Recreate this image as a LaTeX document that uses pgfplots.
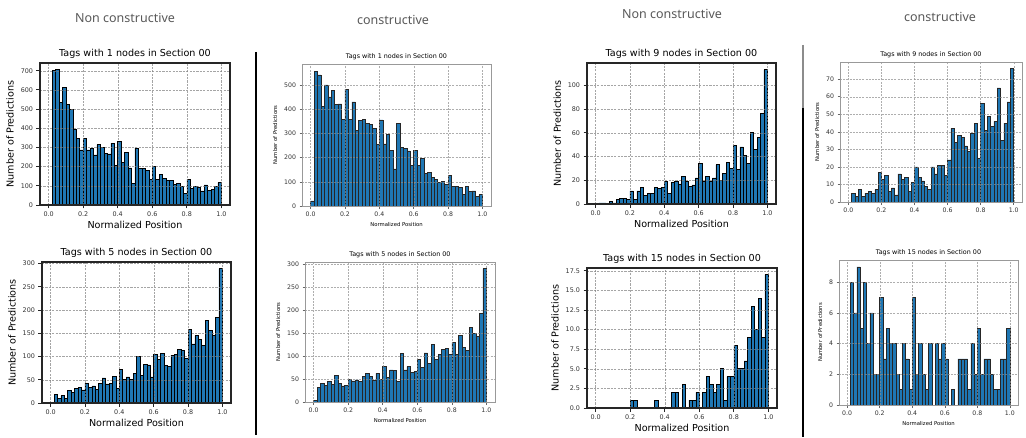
\documentclass[border=0pt]{standalone}
\usepackage{fontspec}
\setmainfont{DejaVu Sans}
\newfontfamily\headfont{Noto Sans}
\usepackage{pgfplots}
\usepackage{pgfplotstable}
\pgfplotsset{compat=1.18}
\definecolor{mplblue}{RGB}{31,119,180}

% Histogram counts, 50 bins of width 0.02 (last row repeats the final bin)
\pgfplotstableread{
x    n1  n5  n9  n15
0.00 0   0   0   0
0.02 700 18  1   0
0.04 705 10  1   0
0.06 534 16  0   0
0.08 611 10  2   0
0.10 523 27  1   0
0.12 497 23  4   0
0.14 392 31  5   0
0.16 348 34  5   0
0.18 287 28  4   0
0.20 348 43  11  1
0.22 287 33  4   1
0.24 296 37  11  0
0.26 261 30  14  0
0.28 315 42  7   0
0.30 301 54  9   0
0.32 270 41  9   0
0.34 266 42  14  1
0.36 322 58  13  0
0.38 208 32  14  0
0.40 333 72  19  0
0.42 222 51  9   0
0.44 275 56  18  2
0.46 193 51  19  2
0.48 112 63  17  0
0.50 298 100 23  3
0.52 191 60  19  0
0.54 191 83  15  1
0.56 182 82  16  1
0.58 135 56  22  2
0.60 200 105 34  0
0.62 135 94  19  2
0.64 161 107 23  4
0.66 138 81  19  3
0.68 130 79  22  2
0.70 130 103 33  3
0.72 109 104 20  5
0.74 112 115 26  1
0.76 98  113 35  4
0.78 60  96  30  4
0.80 133 159 49  8
0.82 88  127 29  5
0.84 98  145 48  5
0.86 91  137 41  6
0.88 74  124 34  9
0.90 105 177 60  13
0.92 77  157 46  10
0.94 82  146 56  14
0.96 95  185 76  9
0.98 117 289 113 17
1.00 117 289 113 17
}\noncons

\pgfplotstableread{
x    c1  c5  c9  c15
0.00 21  3   0   0
0.02 556 32  5   8
0.04 541 40  3   6
0.06 412 36  7   9
0.08 500 45  3   5
0.10 450 38  5   8
0.12 476 58  6   4
0.14 420 40  5   6
0.16 421 35  7   2
0.18 356 36  17  2
0.20 482 49  13  7
0.22 358 46  15  3
0.24 430 48  6   5
0.26 312 45  8   4
0.28 352 56  4   4
0.30 356 63  16  2
0.32 342 56  13  1
0.34 337 48  14  4
0.36 320 62  6   3
0.38 253 50  11  1
0.40 355 78  20  7
0.42 256 54  14  2
0.44 296 70  12  4
0.46 231 68  9   2
0.48 153 45  7   1
0.50 342 105 20  4
0.52 241 70  16  0
0.54 238 77  21  4
0.56 227 65  21  3
0.58 168 66  15  4
0.60 231 92  24  3
0.62 169 75  42  0
0.64 197 107 34  1
0.66 135 84  38  0
0.68 139 125 37  3
0.70 118 92  32  3
0.72 110 104 29  3
0.74 96  114 39  1
0.76 102 116 45  4
0.78 90  103 25  2
0.80 125 129 56  5
0.82 80  104 41  2
0.84 81  145 49  3
0.86 76  119 43  3
0.88 48  112 46  2
0.90 80  163 65  1
0.92 59  149 35  1
0.94 62  142 45  3
0.96 41  192 57  3
0.98 47  290 76  5
1.00 47  290 76  5
}\cons

\pgfplotsset{
  /pgf/number format/assume math mode=true,
  histbase/.style={
    scale only axis, anchor=south west,
    xmin=-0.05, xmax=1.05, ymin=0,
    xtick={0,0.2,0.4,0.6,0.8,1},
    xticklabel style={/pgf/number format/.cd, fixed, fixed zerofill, precision=1},
    grid=major, axis on top,
    tick align=outside, tick pos=left,
  },
  noncons/.style={histbase,
    axis line style={black!85, line width=1.2pt},
    major tick style={black!85, line width=0.8pt}, major tick length=3.5pt,
    grid style={black!50, line width=0.35pt, dash pattern=on 2.2pt off 1.2pt, opacity=0.7},
    title style={font=\fontsize{9.6}{11}\selectfont, yshift=-5pt},
    label style={font=\fontsize{9.6}{11}\selectfont},
    xlabel style={yshift=3pt},
    ticklabel style={font=\fontsize{6.4}{7}\selectfont, text=black!80},
    xlabel={Normalized Position}, ylabel={Number of Predictions},
  },
  cons/.style={histbase,
    axis line style={black!40, line width=0.6pt},
    major tick style={black!60, line width=0.5pt}, major tick length=2.5pt,
    grid style={black!45, line width=0.35pt, dash pattern=on 2pt off 1.2pt, opacity=0.7},
    title style={font=\fontsize{6.4}{7}\selectfont, yshift=-5pt},
    label style={font=\fontsize{5.3}{6}\selectfont},
    xlabel style={yshift=1pt},
    ticklabel style={font=\fontsize{6.2}{7}\selectfont, text=black!80},
    ylabel={Number of Predictions},
  },
  hbar/.style={ybar interval, fill=mplblue, draw=black, line width=0.6pt},
  cbar/.style={ybar interval, fill=mplblue, draw=black!85, line width=0.5pt},
}

\begin{document}
\begin{tikzpicture}
\useasboundingbox[fill=white] (0,0) rectangle (1026pt,437pt);

% column headers
\begin{scope}[every node/.style={font=\headfont\fontsize{12.5}{14}\selectfont, text=black!65}]
\node at (125pt,419pt) {Non constructive};
\node at (393pt,417pt) {constructive};
\node at (672pt,423pt) {Non constructive};
\node at (940pt,420pt) {constructive};
\end{scope}

% separators
\draw[line width=1.3pt] (256pt,385pt) -- (256pt,2pt);
\draw[line width=1.3pt, black!45] (803pt,392pt) -- (803pt,329pt);
\draw[line width=1.3pt] (803pt,329pt) -- (803pt,0pt);

% ---- top row ----
\begin{axis}[noncons, at={(40pt,232pt)}, width=190pt, height=142pt,
  ymax=740, ytick={0,100,200,300,400,500,600,700},
  title={Tags with 1 nodes in Section 00}]
\addplot[hbar] table[x=x, y=n1] {\noncons};
\end{axis}

\begin{axis}[cons, at={(302pt,231pt)}, width=189pt, height=142pt,
  ymax=586, ytick={0,100,200,300,400,500},
  xlabel={Normalized Position},
  title={Tags with 1 nodes in Section 00}]
\addplot[cbar] table[x=x, y=c1] {\cons};
\end{axis}

\begin{axis}[noncons, at={(587pt,233pt)}, width=189pt, height=141pt,
  ymax=118.7, ytick={0,20,40,60,80,100},
  title={Tags with 9 nodes in Section 00}]
\addplot[hbar] table[x=x, y=n9] {\noncons};
\end{axis}

\begin{axis}[cons, at={(840pt,235pt)}, width=182pt, height=140pt,
  ymax=79.8, ytick={0,10,20,30,40,50,60,70},
  title={Tags with 9 nodes in Section 00}]
\addplot[cbar] table[x=x, y=c9] {\cons};
\end{axis}

% ---- bottom row ----
\begin{axis}[noncons, at={(42pt,34pt)}, width=189pt, height=141pt,
  ymax=303.5, ytick={0,50,100,150,200,250,300},
  title={Tags with 5 nodes in Section 00}]
\addplot[hbar] table[x=x, y=n5] {\noncons};
\end{axis}

\begin{axis}[cons, at={(305pt,35pt)}, width=190pt, height=140pt,
  ymax=304.5, ytick={0,50,100,150,200,250,300},
  xlabel={Normalized Position},
  title={Tags with 5 nodes in Section 00}]
\addplot[cbar] table[x=x, y=c5] {\cons};
\end{axis}

\begin{axis}[noncons, at={(587pt,29pt)}, width=190pt, height=140pt,
  ymax=17.85, ytick={0,2.5,5,7.5,10,12.5,15,17.5},
  yticklabel style={/pgf/number format/.cd, fixed, fixed zerofill, precision=1},
  title={Tags with 15 nodes in Section 00}]
\addplot[hbar] table[x=x, y=n15] {\noncons};
\end{axis}

\begin{axis}[cons, at={(839pt,32pt)}, width=179pt, height=145pt,
  ymax=9.45, ytick={0,2,4,6,8},
  xlabel={Normalized Position},
  title={Tags with 15 nodes in Section 00}]
\addplot[cbar] table[x=x, y=c15] {\cons};
\end{axis}
\end{tikzpicture}
\end{document}
